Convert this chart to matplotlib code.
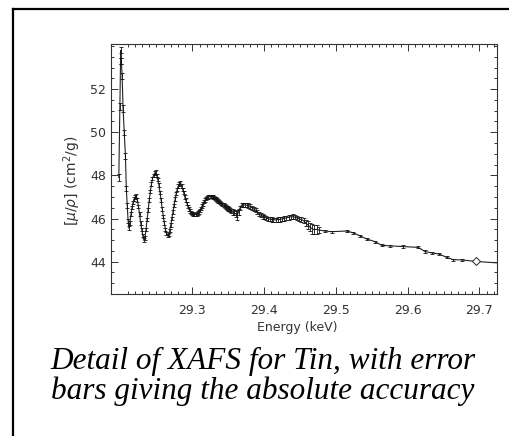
import matplotlib
matplotlib.use("Agg")
import matplotlib.pyplot as plt
from matplotlib.lines import Line2D

# ---- data ----
energy = [29.1976, 29.1990, 29.2000, 29.2004, 29.2012, 29.2022, 29.2035, 29.2052, 29.2068, 29.2080,
          29.2093, 29.2105, 29.2116, 29.2130, 29.2145, 29.2160, 29.2175, 29.2190, 29.2205, 29.2220,
          29.2235, 29.2250, 29.2265, 29.2280, 29.2295, 29.2310, 29.2325, 29.2340, 29.2355, 29.2370,
          29.2385, 29.2400, 29.2415, 29.2430, 29.2445, 29.2460, 29.2475, 29.2492, 29.2505, 29.2520,
          29.2535, 29.2550, 29.2565, 29.2580, 29.2595, 29.2610, 29.2625, 29.2640, 29.2655, 29.2670,
          29.2685, 29.2700, 29.2715, 29.2730, 29.2745, 29.2760, 29.2775, 29.2790, 29.2805, 29.2820,
          29.2835, 29.2850, 29.2865, 29.2880, 29.2895, 29.2910, 29.2925, 29.2940, 29.2955, 29.2970,
          29.2985, 29.3000, 29.3015, 29.3030, 29.3045, 29.3060, 29.3075, 29.3090, 29.3105, 29.3120,
          29.3135, 29.3150, 29.3165, 29.3180, 29.3195, 29.3210, 29.3225, 29.3240, 29.3255, 29.3270,
          29.3285, 29.3300, 29.3315, 29.3330, 29.3345, 29.3360, 29.3375, 29.3390, 29.3405, 29.3420,
          29.3435, 29.3450, 29.3465, 29.3480, 29.3495, 29.3510, 29.3525, 29.3545, 29.3565, 29.3585,
          29.3605, 29.3625, 29.3645, 29.3665, 29.3685, 29.3705, 29.3730, 29.3755, 29.3780, 29.3805,
          29.3830, 29.3855, 29.3880, 29.3905, 29.3930, 29.3955, 29.3980, 29.4005, 29.4030, 29.4055,
          29.4080, 29.4105, 29.4130, 29.4160, 29.4190, 29.4220, 29.4250, 29.4280, 29.4310, 29.4340,
          29.4370, 29.4400, 29.4430, 29.4460, 29.4490, 29.4520, 29.4550, 29.4580, 29.4610, 29.4640,
          29.4670, 29.4700, 29.4730, 29.4760,
          29.4845, 29.4939, 29.5148, 29.5240, 29.5333, 29.5436, 29.5543, 29.5636, 29.5752, 29.5937,
          29.6147, 29.6240, 29.6333, 29.6439, 29.6542, 29.6635, 29.6752, 29.6947, 29.7350]
mu_rho = [47.90, 51.20, 53.30, 53.80, 53.30, 52.60, 51.10, 50.00, 48.90, 47.40,
          46.60, 45.90, 45.55, 45.80, 46.20, 46.50, 46.75, 46.90, 47.00, 47.05,
          46.85, 46.55, 46.20, 45.80, 45.50, 45.20, 45.00, 45.10, 45.50, 45.95,
          46.40, 46.85, 47.25, 47.60, 47.85, 48.00, 48.10, 48.15, 48.00, 47.80,
          47.55, 47.20, 46.85, 46.45, 46.10, 45.80, 45.50, 45.30, 45.22, 45.25,
          45.45, 45.70, 46.00, 46.30, 46.60, 46.90, 47.15, 47.35, 47.50, 47.60,
          47.65, 47.50, 47.35, 47.20, 47.00, 46.85, 46.70, 46.55, 46.45, 46.35,
          46.28, 46.22, 46.20, 46.18, 46.18, 46.20, 46.25, 46.30, 46.38, 46.47,
          46.58, 46.68, 46.78, 46.86, 46.92, 46.97, 47.00, 47.02, 47.03, 47.02,
          47.00, 46.97, 46.93, 46.90, 46.86, 46.82, 46.78, 46.74, 46.70, 46.66,
          46.62, 46.58, 46.54, 46.50, 46.47, 46.44, 46.40, 46.36, 46.30, 46.26,
          46.22, 46.16, 46.30, 46.50, 46.62, 46.64, 46.62, 46.62, 46.60, 46.56,
          46.50, 46.44, 46.38, 46.30, 46.22, 46.15, 46.10, 46.06, 46.02, 45.99,
          45.97, 45.95, 45.94, 45.94, 45.95, 45.96, 45.98, 46.00, 46.03, 46.05,
          46.08, 46.08, 46.06, 46.02, 45.98, 45.95, 45.90, 45.80, 45.70, 45.60,
          45.52, 45.48, 45.50, 45.47,
          45.42, 45.39, 45.42, 45.34, 45.20, 45.04, 44.93, 44.76, 44.73, 44.70,
          44.66, 44.47, 44.41, 44.35, 44.20, 44.09, 44.08, 44.01, 43.92]
error = [0.15, 0.15, 0.15, 0.15, 0.15, 0.15, 0.15, 0.12, 0.12, 0.12,
         0.10, 0.10, 0.08, 0.08, 0.08, 0.08, 0.08, 0.08, 0.08, 0.08,
         0.08, 0.08, 0.08, 0.08, 0.08, 0.08, 0.08, 0.08, 0.08, 0.08,
         0.08, 0.08, 0.08, 0.08, 0.08, 0.08, 0.08, 0.08, 0.08, 0.08,
         0.08, 0.08, 0.08, 0.08, 0.08, 0.08, 0.08, 0.08, 0.08, 0.08,
         0.08, 0.08, 0.08, 0.08, 0.08, 0.08, 0.08, 0.08, 0.08, 0.08,
         0.08, 0.08, 0.08, 0.08, 0.08, 0.08, 0.08, 0.08, 0.08, 0.08,
         0.08, 0.08, 0.08, 0.08, 0.08, 0.08, 0.08, 0.08, 0.08, 0.08,
         0.08, 0.08, 0.08, 0.08, 0.08, 0.08, 0.08, 0.08, 0.08, 0.08,
         0.08, 0.08, 0.08, 0.08, 0.08, 0.08, 0.08, 0.08, 0.08, 0.08,
         0.10, 0.10, 0.10, 0.10, 0.10, 0.10, 0.10, 0.10, 0.12, 0.12,
         0.15, 0.22, 0.15, 0.10, 0.10, 0.10, 0.10, 0.10, 0.10, 0.10,
         0.10, 0.10, 0.10, 0.10, 0.10, 0.10, 0.10, 0.10, 0.10, 0.10,
         0.10, 0.10, 0.10, 0.10, 0.10, 0.10, 0.10, 0.10, 0.10, 0.10,
         0.10, 0.12, 0.10, 0.10, 0.10, 0.10, 0.12, 0.15, 0.18, 0.20,
         0.22, 0.20, 0.22, 0.15,
         0.05, 0.05, 0.05, 0.05, 0.05, 0.05, 0.05, 0.05, 0.05, 0.05,
         0.05, 0.05, 0.05, 0.05, 0.05, 0.05, 0.05, 0.0, 0.05]
marked_energy = [29.6947]
marked_mu = [44.01]

x_major = [29.3, 29.4, 29.5, 29.6, 29.7]
x_minor = [round(29.21 + 0.01 * i, 2) for i in range(52)]
y_major = [44, 46, 48, 50, 52]
y_minor = [42.5 + 0.5 * i for i in range(24)]

caption_lines = ["Detail of XAFS for Tin, with error",
                 "bars giving the absolute accuracy"]

# ---- figure ----
W, H = 509, 436
fig = plt.figure(figsize=(W / 100, H / 100), dpi=100)
fig.patch.set_facecolor("white")

ax = fig.add_axes([111 / W, (H - 294) / H, 386 / W, 250 / H])
ax.plot(energy, mu_rho, color="#222222", lw=0.8, zorder=2)
ax.errorbar(energy, mu_rho, yerr=error, fmt="none", ecolor="#111111",
            elinewidth=0.6, capsize=1.2, capthick=0.6, zorder=3)
ax.plot(marked_energy, marked_mu, linestyle="none", marker="D", ms=4,
        mfc="white", mec="#222222", mew=0.7, zorder=4)

ax.set_xlim(29.1867, 29.7244)
ax.set_ylim(42.64, 54.09)
ax.set_xticks(x_major)
ax.set_xticks(x_minor, minor=True)
ax.set_yticks(y_major)
ax.set_yticks(y_minor, minor=True)
ax.set_xticklabels([f"{v:.1f}" for v in x_major])
ax.set_yticklabels([f"{v:d}" for v in y_major])

for s in ax.spines.values():
    s.set_linewidth(0.8)
    s.set_color("#333333")
ax.tick_params(which="both", direction="in", top=True, right=True,
               color="#333333", width=0.7)
ax.tick_params(which="major", length=5)
ax.tick_params(which="minor", length=2.5)
ax.tick_params(axis="x", which="major", pad=7, labelsize=9, labelcolor="#333333")
ax.tick_params(axis="y", which="major", pad=3.5, labelsize=9, labelcolor="#333333")

ax.set_xlabel("Energy (keV)", fontsize=9, color="#333333")
ax.xaxis.set_label_coords(0.482, -0.110)
ax.set_ylabel(r"$[\mu/\rho]$ (cm$^2$/g)", fontsize=10, color="#333333")
ax.yaxis.set_label_coords(-0.0725, 0.452)

# outer frame (top and left visible)
fig.add_artist(Line2D([13 / W, 13 / W], [0, 1 - 9 / H], transform=fig.transFigure,
                      color="black", lw=1.6))
fig.add_artist(Line2D([13 / W, 1], [1 - 9 / H, 1 - 9 / H], transform=fig.transFigure,
                      color="black", lw=1.6))

for line, base in zip(caption_lines, [369, 399]):
    fig.text(263 / W, 1 - base / H, line, ha="center", va="baseline",
             family="Liberation Serif", style="italic", fontsize=22.5,
             color="black")

fig.savefig("out.png", dpi=100)
